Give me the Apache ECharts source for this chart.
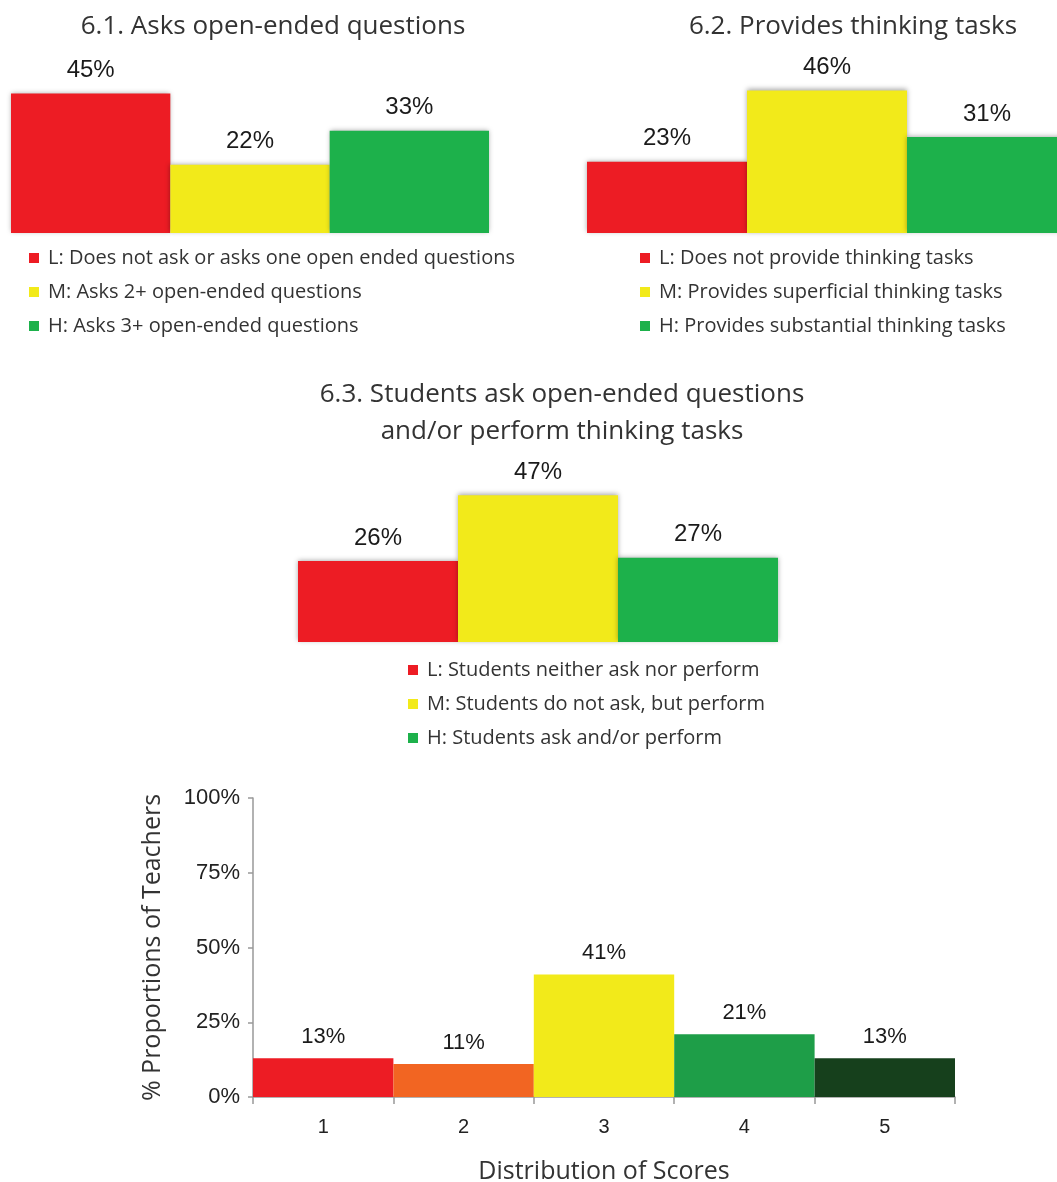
<!DOCTYPE html>
<html>
<head>
<meta charset="utf-8">
<script src="https://cdn.jsdelivr.net/npm/echarts@6/dist/echarts.min.js"></script>
<style>
  html, body { margin: 0; padding: 0; background: #fff; }
  #chart { width: 1057px; height: 1182px; }
</style>
</head>
<body>
<div id="chart"></div>
<script>
// Level categories shared by the three indicator panels
const levels = ['L', 'M', 'H'];

// 6.1 Asks open-ended questions
const q61Title = '6.1. Asks open-ended questions';
const q61Values = [45, 22, 33];
const q61Legend = [
  'L: Does not ask or asks one open ended questions',
  'M: Asks 2+ open-ended questions',
  'H: Asks 3+ open-ended questions'
];

// 6.2 Provides thinking tasks
const q62Title = '6.2. Provides thinking tasks';
const q62Values = [23, 46, 31];
const q62Legend = [
  'L: Does not provide thinking tasks',
  'M: Provides superficial thinking tasks',
  'H: Provides substantial thinking tasks'
];

// 6.3 Students ask open-ended questions and/or perform thinking tasks
const q63Title = '6.3. Students ask open-ended questions\nand/or perform thinking tasks';
const q63Values = [26, 47, 27];
const q63Legend = [
  'L: Students neither ask nor perform',
  'M: Students do not ask, but perform',
  'H: Students ask and/or perform'
];

// Overall score distribution
const scoreCategories = ['1', '2', '3', '4', '5'];
const scoreValues = [13, 11, 41, 21, 13];
const scoreAxisName = 'Distribution of Scores';
const shareAxisName = '% Proportions of Teachers';

const levelColors = ['#ED1C24', '#F2EA1A', '#1DB14B'];
const scoreColors = ['#ED1C24', '#F26522', '#F2EA1A', '#1E9E48', '#16401C'];

const roundFont = '"Open Sans", "Noto Sans", sans-serif';
const arialFont = '"Liberation Sans", Arial, sans-serif';

const chart = echarts.init(document.getElementById('chart'), null, { renderer: 'canvas' });

// One stacked series per level so each level fills its own category slot
function panelSeries(gridIdx, values, names) {
  return levels.map((lv, i) => ({
    name: names[i],
    type: 'bar',
    xAxisIndex: gridIdx,
    yAxisIndex: gridIdx,
    stack: 'panel' + gridIdx,
    barWidth: '100%',
    data: levels.map((_, j) => (j === i ? values[i] : '-')),
    itemStyle: {
      color: levelColors[i],
      shadowColor: 'rgba(0,0,0,0.35)',
      shadowBlur: 5,
      shadowOffsetY: -1
    },
    label: {
      show: true,
      position: 'top',
      distance: 11,
      formatter: '{c}%',
      fontFamily: arialFont,
      fontSize: 24,
      color: '#1a1a1a'
    },
    emphasis: { disabled: true }
  }));
}

function panelLegend(left, top, names) {
  return {
    orient: 'vertical',
    left: left,
    top: top,
    data: names,
    icon: 'rect',
    itemWidth: 10,
    itemHeight: 10,
    itemGap: 14,
    selectedMode: false,
    textStyle: { fontFamily: roundFont, fontSize: 20, color: '#333', padding: [0, 0, 0, 4] }
  };
}

const panelAxisX = (gridIndex) => ({
  type: 'category', gridIndex, data: levels, show: false
});
const panelAxisY = (gridIndex) => ({
  type: 'value', gridIndex, min: 0, max: 50, show: false
});

const titleStyle = { fontFamily: roundFont, fontSize: 26, fontWeight: 'normal', color: '#333', lineHeight: 37 };

const option = {
  backgroundColor: '#fff',
  animation: false,
  title: [
    { text: q61Title, left: 268, top: 3, textAlign: 'center', textStyle: titleStyle },
    { text: q62Title, left: 848, top: 3, textAlign: 'center', textStyle: titleStyle },
    { text: q63Title, left: 557, top: 371, textAlign: 'center', textStyle: titleStyle }
  ],
  legend: [
    panelLegend(24, 243, q61Legend),
    panelLegend(635, 243, q62Legend),
    panelLegend(403, 655, q63Legend)
  ],
  grid: [
    { left: 11, top: 78, width: 478, height: 155, outerBoundsMode: 'none' },
    { left: 587, top: 78, width: 480, height: 155, outerBoundsMode: 'none' },
    { left: 298, top: 486, width: 480, height: 156, outerBoundsMode: 'none' },
    { left: 253, top: 798, width: 702, height: 299, outerBoundsMode: 'none' }
  ],
  xAxis: [
    panelAxisX(0), panelAxisX(1), panelAxisX(2),
    {
      type: 'category', gridIndex: 3, data: scoreCategories,
      name: scoreAxisName, nameLocation: 'middle', nameGap: 62,
      nameTextStyle: { fontFamily: roundFont, fontSize: 25, color: '#333' },
      axisLine: { lineStyle: { color: '#999', width: 1.5 } },
      axisTick: { show: true, length: 7, lineStyle: { color: '#999', width: 1.5 } },
      axisLabel: { fontFamily: arialFont, fontSize: 20, color: '#222', margin: 20 }
    }
  ],
  yAxis: [
    panelAxisY(0), panelAxisY(1), panelAxisY(2),
    {
      type: 'value', gridIndex: 3, min: 0, max: 100, interval: 25,
      name: shareAxisName, nameLocation: 'middle', nameGap: 88,
      nameTextStyle: { fontFamily: roundFont, fontSize: 25, color: '#333' },
      axisLine: { show: true, lineStyle: { color: '#999', width: 1.5 } },
      axisTick: { show: true, length: 5, lineStyle: { color: '#999', width: 1.5 } },
      axisLabel: { formatter: '{value}%', fontFamily: arialFont, fontSize: 22, color: '#222', margin: 13 },
      splitLine: { show: false }
    }
  ],
  series: [
    ...panelSeries(0, q61Values, q61Legend),
    ...panelSeries(1, q62Values, q62Legend),
    ...panelSeries(2, q63Values, q63Legend),
    {
      type: 'bar',
      xAxisIndex: 3,
      yAxisIndex: 3,
      barWidth: '100%',
      data: scoreValues.map((v, i) => ({ value: v, itemStyle: { color: scoreColors[i] } })),
      label: {
        show: true, position: 'top', distance: 10, formatter: '{c}%',
        fontFamily: arialFont, fontSize: 22, color: '#1a1a1a'
      },
      emphasis: { disabled: true }
    }
  ]
};

chart.setOption(option);
</script>
</body>
</html>
